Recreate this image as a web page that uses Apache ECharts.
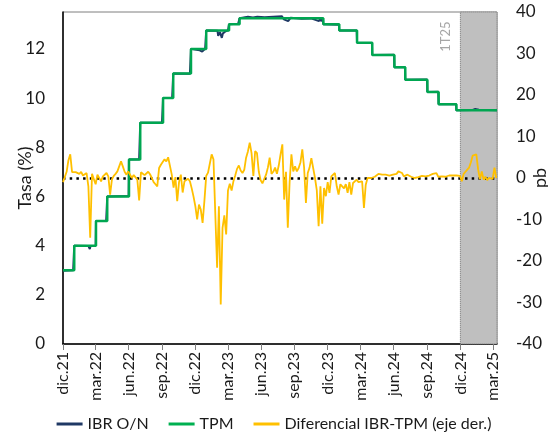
<!DOCTYPE html>
<html>
<head>
<meta charset="utf-8">
<title>IBR O/N y TPM</title>
<script src="https://cdn.jsdelivr.net/npm/echarts@6.0.0/dist/echarts.min.js"></script>
<style>
  html, body { margin: 0; padding: 0; background: #fff; }
  #chart { width: 548px; height: 438px; }
</style>
</head>
<body>
<div id="chart"></div>
<script>
// TPM (tasa de politica monetaria): fechas de cambio y nivel
var tpmDates = ['2021-12-31', '2022-01-31', '2022-04-01', '2022-05-02', '2022-07-01', '2022-08-01',
  '2022-10-03', '2022-10-31', '2022-12-19', '2023-01-30', '2023-04-03', '2023-05-02', '2023-12-19',
  '2024-02-01', '2024-03-21', '2024-05-02', '2024-07-02', '2024-08-01', '2024-10-01', '2024-11-01',
  '2024-12-20', '2025-04-11'];
var tpmValues = [3.00, 4.00, 5.00, 6.00, 7.50, 9.00, 10.00, 11.00, 12.00, 12.75, 13.00, 13.25, 13.00,
  12.75, 12.25, 11.75, 11.25, 10.75, 10.25, 9.75, 9.50, 9.50];

// IBR overnight
var ibrDates = ['2021-12-31', '2022-01-28', '2022-01-31', '2022-03-11', '2022-03-15', '2022-03-17',
  '2022-03-31', '2022-04-01', '2022-04-29', '2022-05-02', '2022-06-30', '2022-07-01', '2022-07-29',
  '2022-08-01', '2022-09-30', '2022-10-03', '2022-10-28', '2022-10-31', '2022-12-16', '2022-12-19',
  '2023-01-03', '2023-01-06', '2023-01-12', '2023-01-19', '2023-01-24', '2023-01-27', '2023-01-30',
  '2023-03-02', '2023-03-04', '2023-03-09', '2023-03-14', '2023-03-17', '2023-03-23', '2023-03-31',
  '2023-04-03', '2023-04-28', '2023-05-02', '2023-05-25', '2023-05-29', '2023-06-08', '2023-06-20',
  '2023-07-10', '2023-08-27', '2023-09-01', '2023-09-13', '2023-09-20', '2023-10-20', '2023-11-15',
  '2023-12-07', '2023-12-10', '2023-12-13', '2023-12-18', '2023-12-19', '2024-01-31', '2024-02-01',
  '2024-03-20', '2024-03-21', '2024-05-01', '2024-05-02', '2024-07-01', '2024-07-02', '2024-07-31',
  '2024-08-01', '2024-09-30', '2024-10-01', '2024-10-31', '2024-11-01', '2024-12-19', '2024-12-20',
  '2025-02-03', '2025-02-10', '2025-02-20', '2025-04-11'];
var ibrValues = [2.98, 3.00, 4.00, 3.98, 3.86, 3.99,
  4.00, 5.00, 5.00, 6.00, 6.02, 7.50, 7.51,
  9.00, 9.00, 10.00, 10.01, 11.00, 10.99, 12.00,
  11.96, 11.90, 11.94, 11.89, 11.95, 12.00, 12.75,
  12.74, 12.53, 12.68, 12.45, 12.63, 12.70, 12.75,
  13.00, 13.02, 13.25, 13.31, 13.33, 13.28, 13.31,
  13.29, 13.33, 13.20, 13.13, 13.27, 13.23, 13.24,
  13.13, 13.23, 13.13, 13.23, 13.00, 12.98, 12.75,
  12.75, 12.25, 12.24, 11.75, 11.76, 11.25, 11.26,
  10.75, 10.76, 10.25, 10.26, 9.75, 9.76, 9.50,
  9.52, 9.555, 9.53, 9.50];

// Diferencial IBR-TPM (pb), una lectura cada 5 dias desde diffStart
var diffStart = '2021-12-31';
var diffStepDays = 5;
var diffValues = [
  -1, -0.6, 1.5, 4.3, 5.7, 1.4, 1.3, 1.4, 1.1, 1.0,
  1.5, 0.6, 0.8, 1.2, -2, -14.4, 1.0, 0.6, -1.5, 0.8,
  1.2, -0.8, 0.4, 0.8, 1.2, 0.4, -4, -0.3, 0.5, 1.0,
  1.6, 2.8, 4, 2.8, 1.5, 0.8, 1.6, 1.2, 0, 0.7,
  0.3, -0.4, -5.4, 1.4, 1.3, 0.7, 1.1, 1.5, 0.9, 0,
  -1, -1.5, -2, 2.4, 3.2, 3.2, 4.5, 4, 5, 5.4,
  0.8, -2.3, 0.2, -5.6, -1, 0.8, -3.5, -0.8, -0.4, -0.2,
  -0.8, -2.5, -4.5, -6.8, -10, -6.4, -7.6, -10.8, -5.5, 0.5,
  1.3, 3.5, 5.7, 4.5, 4.5, -21.6, -6.8, -30.5, -12, -9,
  -13.6, -3, -1.4, -3, -0.8, 0.6, 2.2, 3, 1.8, 1.2,
  2, 4.9, 6.4, 8.5, 6, 0.5, 6.5, 6, 1.5, -0.5,
  -1.3, -1, 0.8, 2.5, 4.9, 1, 1.5, 2.5, 1, 3,
  5.7, 8.1, -5.2, 1.5, -12, -1, 5.7, 1.6, 2.8, 1.6,
  2.4, 3.8, 6.9, 2.5, -6, 1.2, 2.5, 4.8, 4.5, 0,
  -3, -11.6, -2, -11, -2.4, -4.4, -1, -3.6, 0.4, 0,
  1.2, -2, -4, -1.5, -2, -2.5, -1.5, -3.6, -1, -4,
  -1.2, -0.8, -0.4, -1, -1, -0.8, -7.2, -1.6, 0, -0.4,
  0, -0.2, 0.3, 0.4, 1, 1.4, 0.8, 0.4, 0.8, 0.4,
  0.6, 0.3, 0.8, 0.4, 1, 1.6, 2, 1.2, 0.4, 0.3,
  0.8, 0.6, 0.3, 0.4, 0, -0.2, 0.2, 0.3, 0.5, 0.8,
  0.4, 0.8, 0.6, 0.8, 1, 1.3, 1.2, 0.3, 0.1, 0.4,
  0.6, 0.3, 0.4, 0.6, 0.4, 0.6, 0.7, 0.6, 0.7, 0.5,
  -0.8, 1, 1.5, 2, 2.5, 3.8, 5.4, 5.4, 5.7, 2,
  -0.3, 1.6, -0.4, 0.3, -0.5, 0, -0.4, -0.2, 2.5, 0
];

var tickDates = ['2021-12-31', '2022-03-31', '2022-06-30', '2022-09-30', '2022-12-31', '2023-03-31',
  '2023-06-30', '2023-09-30', '2023-12-31', '2024-03-31', '2024-06-30', '2024-09-30', '2024-12-31',
  '2025-03-31'];
var tickLabels = ['dic.21', 'mar.22', 'jun.22', 'sep.22', 'dic.22', 'mar.23', 'jun.23', 'sep.23',
  'dic.23', 'mar.24', 'jun.24', 'sep.24', 'dic.24', 'mar.25'];

var axisStart = '2021-12-31';
var axisEnd = '2025-04-11';
var shadeStart = '2024-12-31';

function ts(s) {
  var p = s.split('-');
  return new Date(+p[0], p[1] - 1, +p[2]).getTime();
}

var tpmData = tpmDates.map(function (d, i) { return [ts(d), tpmValues[i]]; });
var ibrData = ibrDates.map(function (d, i) { return [ts(d), ibrValues[i]]; });
var diffData = diffValues.map(function (v, i) {
  var d = new Date(ts(diffStart));
  d.setDate(d.getDate() + i * diffStepDays);
  return [d.getTime(), v];
});
var tickTs = tickDates.map(ts);

var font = 'Lato, "Liberation Sans", sans-serif';
var chart = echarts.init(document.getElementById('chart'));

var option = {
  animation: false,
  textStyle: { fontFamily: font, color: '#1a1a1a' },
  grid: {
    left: 63, right: 51, top: 12, bottom: 94,
    outerBoundsMode: 'none',
    containLabel: false,
    show: true, borderColor: '#7f7f7f', borderWidth: 1
  },
  legend: {
    data: ['IBR O/N', 'TPM', 'Diferencial IBR-TPM (eje der.)'],
    bottom: 1,
    left: 'center',
    icon: 'rect',
    itemWidth: 26,
    itemHeight: 3,
    itemGap: 20,
    textStyle: { fontSize: 16, color: '#1a1a1a', fontFamily: font }
  },
  xAxis: {
    type: 'value',
    min: ts(axisStart),
    max: ts(axisEnd),
    splitLine: { show: false },
    axisLine: { onZero: false, lineStyle: { color: '#000', width: 1.5 } },
    axisTick: { show: true, customValues: tickTs, length: 6, lineStyle: { color: '#7f7f7f' } },
    axisLabel: {
      customValues: tickTs,
      rotate: 90,
      margin: 8,
      fontSize: 16,
      color: '#1a1a1a',
      formatter: function (v) {
        for (var i = 0; i < tickTs.length; i++) {
          if (Math.abs(tickTs[i] - v) < 43200000) return tickLabels[i];
        }
        return '';
      }
    }
  },
  yAxis: [{
    type: 'value',
    min: 0, max: 13.5, interval: 2,
    name: 'Tasa (%)',
    nameLocation: 'middle',
    nameRotate: 90,
    nameGap: 38,
    nameMoveOverlap: false,
    nameTextStyle: { fontSize: 18, color: '#1a1a1a', verticalAlign: 'middle' },
    splitLine: { show: false },
    axisLine: { show: true, lineStyle: { color: '#000', width: 1.5 } },
    axisTick: { show: false },
    axisLabel: { fontSize: 17, margin: 18, color: '#1a1a1a', showMaxLabel: false }
  }, {
    type: 'value',
    min: -40, max: 40, interval: 10,
    name: 'pb',
    nameLocation: 'middle',
    nameRotate: 90,
    nameGap: 43,
    nameMoveOverlap: false,
    nameTextStyle: { fontSize: 18, color: '#1a1a1a', verticalAlign: 'middle' },
    splitLine: { show: false },
    axisLine: { show: false },
    axisTick: { show: false },
    axisLabel: { fontSize: 17, margin: 19, color: '#1a1a1a' }
  }],
  series: [{
    name: 'shade',
    type: 'line',
    data: [],
    z: 1,
    silent: true,
    markArea: {
      silent: true,
      itemStyle: { color: '#bfbfbf', borderColor: '#6f6f6f', borderWidth: 1, borderType: 'dotted' },
      label: {
        show: true,
        formatter: '1T25',
        position: [-14, 10],
        rotate: 90,
        align: 'right',
        verticalAlign: 'middle',
        color: '#a6a6a6',
        fontSize: 13,
        fontFamily: font
      },
      data: [[{ xAxis: ts(shadeStart) }, { xAxis: ts(axisEnd) }]]
    }
  }, {
    name: 'IBR O/N',
    type: 'line',
    data: ibrData,
    z: 3,
    symbol: 'none',
    lineStyle: { color: '#1f3864', width: 2 },
    itemStyle: { color: '#1f3864' }
  }, {
    name: 'TPM',
    type: 'line',
    data: tpmData,
    z: 4,
    step: 'end',
    symbol: 'none',
    lineStyle: { color: '#00a651', width: 2.5 },
    itemStyle: { color: '#00b050' }
  }, {
    name: 'Diferencial IBR-TPM (eje der.)',
    type: 'line',
    yAxisIndex: 1,
    data: diffData,
    z: 5,
    symbol: 'none',
    lineStyle: { color: '#ffc000', width: 1.8 },
    itemStyle: { color: '#ffc000' },
    markLine: {
      silent: true,
      symbol: 'none',
      label: { show: false },
      lineStyle: { color: '#000', type: [2.5, 4.2], width: 2.5 },
      data: [{ yAxis: 0 }]
    }
  }]
};

chart.setOption(option);
window.onresize = function () {
  chart.resize();
};
</script>
</body>
</html>
